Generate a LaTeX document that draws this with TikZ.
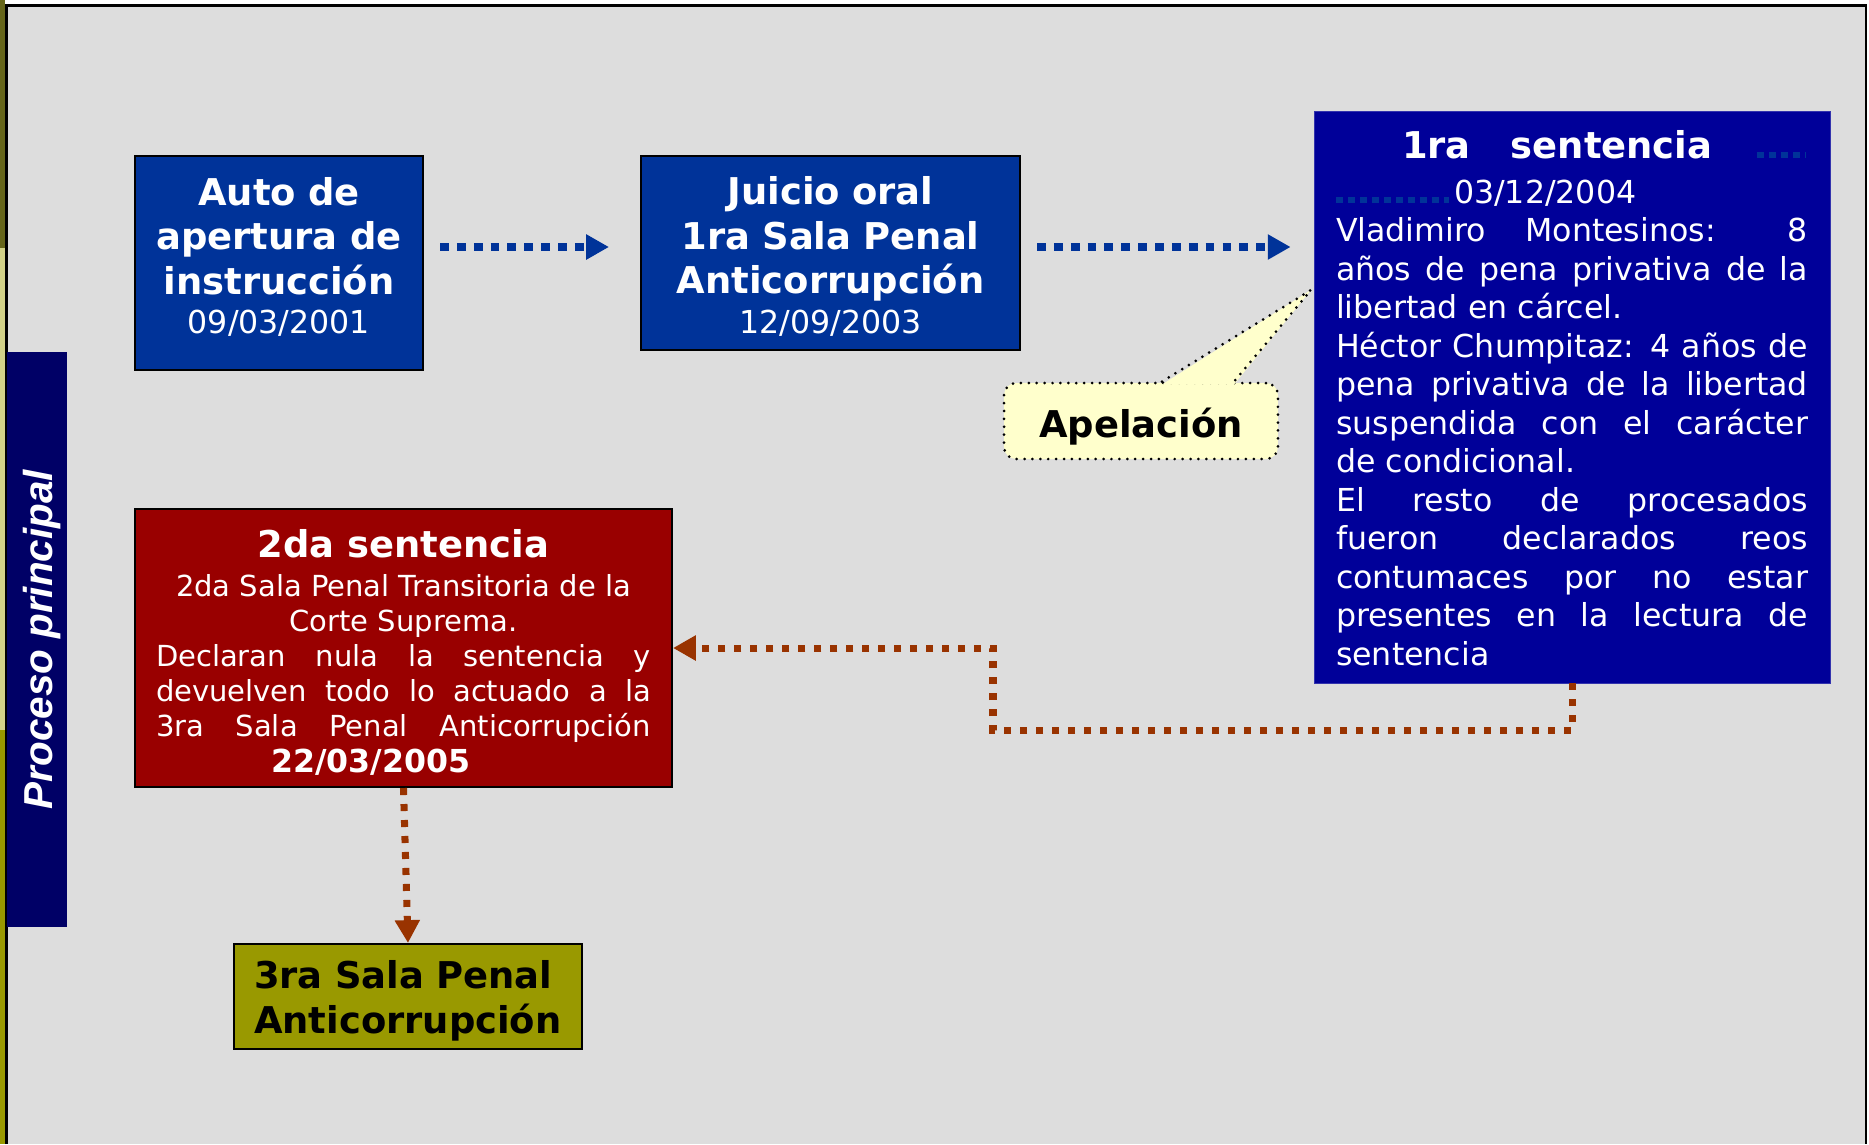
\documentclass[tikz,border=0pt]{standalone}
\usepackage{fontspec}
\setmainfont{DejaVu Sans}
\newfontfamily\barfont{Liberation Sans}
\usepackage{tikz}
\usetikzlibrary{positioning,arrows.meta,calc}
\usepackage{xcolor}
\definecolor{bggray}{HTML}{DDDDDD}
\definecolor{boxblue}{HTML}{003399}
\definecolor{sentnavy}{HTML}{000099}
\definecolor{barnavy}{HTML}{000066}
\definecolor{sentred}{HTML}{990000}
\definecolor{boxolive}{HTML}{999900}
\definecolor{calloutyellow}{HTML}{FFFFCC}
\definecolor{linkblue}{HTML}{003399}
\definecolor{linkbrown}{HTML}{993300}
\definecolor{stripedark}{HTML}{66661A}
\definecolor{stripelight}{HTML}{D2D288}
\definecolor{stripeolive}{HTML}{999900}
\newcommand{\ttlfont}{\fontsize{21}{25.4}\selectfont\bfseries}
\setlength{\parindent}{0pt}
\hyphenpenalty=10000
\exhyphenpenalty=10000

\begin{document}
\begin{tikzpicture}[x=0.02cm, y=-0.02cm,
    bluebox/.style={draw=black, line width=1.2pt, fill=boxblue, text=white, align=center, inner xsep=0.2cm, inner ysep=0pt, font=\ttlfont},
    sentbox/.style={draw=sentnavy!80!white, line width=0.5pt, fill=sentnavy, text=white, align=justify, inner xsep=0.44cm, inner ysep=0pt, text width=9.44cm, minimum width=10.32cm, minimum height=11.44cm, font={\fontsize{18}{21.9}\selectfont}},
    redbox/.style={draw=black, line width=1.2pt, fill=sentred, text=white, align=justify, inner xsep=0.42cm, inner ysep=0pt, text width=9.9cm, minimum width=10.74cm, minimum height=5.56cm, font={\fontsize{16.5}{20}\selectfont}},
    olivebox/.style={draw=black, line width=1.2pt, fill=boxolive, text=black, align=left, inner xsep=0.4cm, inner ysep=0pt, text width=6.16cm, minimum width=6.96cm, minimum height=2.1cm, font={\fontsize{21}{25.6}\selectfont\bfseries}},
    procbar/.style={fill=barnavy, rotate=90, minimum width=11.5cm, minimum height=1.2cm, inner sep=0pt, text=white, font={\barfont\bfseries\itshape\fontsize{23}{27}\selectfont}},
    callout/.style={fill=calloutyellow, draw=black, line width=1.7pt, dash pattern=on 0pt off 4.5pt, line cap=round, rounded corners=0.24cm, minimum width=5.48cm, minimum height=1.52cm, text=black, font=\ttlfont},
    calloutline/.style={draw=black, line width=1.7pt, dash pattern=on 0pt off 4.5pt, line cap=round},
    bluelink/.style={draw=linkblue, line width=4pt, dash pattern=on 5pt off 4.6pt, -{Triangle[length=13pt,width=13.6pt]}},
    brownlink/.style={draw=linkbrown, line width=4pt, dash pattern=on 4pt off 5.1pt, -{Triangle[length=13pt,width=13.6pt]}},
    dotline/.style={draw=linkblue, line width=3.4pt, dash pattern=on 4pt off 2.8pt}]
  \useasboundingbox (0,0) rectangle (1869,1144);
  % background and frame
  \fill[white] (0,0) rectangle (1869,1144);
  \fill[bggray] (6,5) rectangle (1866,1144);
  \fill[stripedark] (0,0) rectangle (5,248);
  \fill[stripelight] (0,248) rectangle (5,730);
  \fill[stripeolive] (0,730) rectangle (5,1144);
  \draw[line width=1.2pt] (6.5,1144) -- (6.5,5.5) -- (1866,5.5) -- (1866,1144);
  % side label
  \node[procbar] (proc) at (37,639.5) {\raisebox{0pt}[19pt][1.5pt]{Proceso principal}};
  % top row
  \node[bluebox, text width=5.36cm, minimum width=5.76cm, minimum height=4.28cm] (auto) at (279,263)
    {Auto de\linebreak apertura de\linebreak instrucción\par
     {\mdseries\fontsize{18}{22.5}\selectfont 09/03/2001\par}\vspace*{7pt}};
  \node[bluebox, text width=7.18cm, minimum width=7.58cm, minimum height=3.88cm] (juicio) at (830.5,253)
    {Juicio oral\linebreak 1ra Sala Penal\linebreak Anticorrupción\par
     {\mdseries\fontsize{18}{22.5}\selectfont 12/09/2003\par}\vspace*{-4pt}};
  \node[sentbox] (sent1) at (1572,397)
    {{\ttlfont\hspace*{1.32cm}1ra\hspace{0.8cm}sentencia\par}
     \vspace{3.6pt}
     \hspace*{2.36cm}03/12/2004\par
     Vladimiro Montesinos: 8\linebreak años de pena privativa de la\linebreak libertad en cárcel.\par
     Héctor Chumpitaz: 4 años de\linebreak pena privativa de la libertad\linebreak suspendida con el carácter\linebreak de condicional.\par
     El resto de procesados\linebreak fueron declarados reos\linebreak contumaces por no estar\linebreak presentes en la lectura de\linebreak sentencia\par\vspace*{-1.2pt}};
  \draw[dotline] (1757,155) -- (1806,155);
  \draw[dotline] (1336,200) -- (1449,200);
  % appeal callout
  \node[callout] (apel) at (1141,421) {\raisebox{0pt}[20pt][1.6pt]{Apelación}};
  \coordinate (apeltip) at (1311,290);
  \fill[calloutyellow] ($(apel.north)+(21,3)$) -- (apeltip) -- ($(apel.north)+(93,3)$) -- cycle;
  \draw[calloutline] ($(apel.north)+(21,0)$) -- (apeltip) -- ($(apel.north)+(93,0)$);
  % lower row
  \node[redbox] (sent2) at (403.5,648)
    {{\centering\ttlfont 2da sentencia\par}
     \vspace{2pt}
     {\centering 2da Sala Penal Transitoria de la\linebreak Corte Suprema.\par}
     Declaran nula la sentencia y\linebreak devuelven todo lo actuado a la\linebreak 3ra Sala Penal Anticorrupción\linebreak
     \hspace*{2.3cm}{\bfseries\fontsize{18}{20}\selectfont 22/03/2005}\par\vspace*{-5pt}};
  \node[olivebox] (sala3) at (408,996.5) {3ra Sala Penal\par Anticorrupción\par\vspace*{-5.4pt}};
  % connectors
  \coordinate (rowA) at (0,247);
  \coordinate (bend) at (993,730);
  \draw[bluelink, shorten <=0.32cm, shorten >=0.62cm] (auto.east |- rowA) -- (juicio.west |- rowA);
  \draw[bluelink, shorten <=0.32cm, shorten >=0.46cm] (juicio.east |- rowA) -- (sent1.west |- rowA);
  \draw[brownlink] (sent1.south) |- (bend) |- (sent2.east);
  \draw[brownlink] (sent2.south) -- (sala3.north);
\end{tikzpicture}
\end{document}
